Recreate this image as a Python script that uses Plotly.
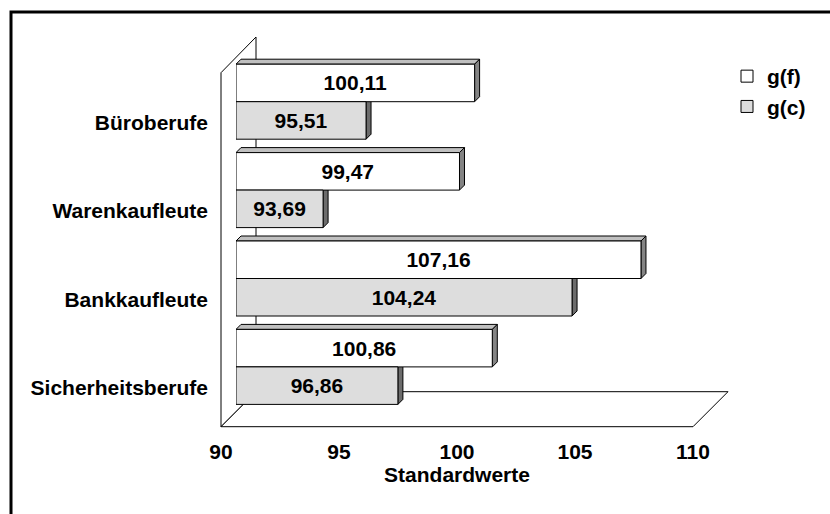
import plotly.graph_objects as go

# ---------------- data ----------------
categories = ["Büroberufe", "Warenkaufleute", "Bankkaufleute", "Sicherheitsberufe"]
series_names = ["g(f)", "g(c)"]
g_f = [100.11, 99.47, 107.16, 100.86]
g_c = [95.51, 93.69, 104.24, 96.86]
x_ticks = [90, 95, 100, 105, 110]
x_title = "Standardwerte"

# ---------------- styling / geometry ----------------
W, H = 830, 514
FONT = "Liberation Sans, Arial, sans-serif"
FS = 21
front_fill = ["#ffffff", "#dddddd"]
top_fill = ["#c0c0c0", "#a6a6a6"]
side_fill = ["#848484", "#6c6c6c"]

XMIN, XMAX = 90, 110
# pixel geometry of the pseudo-3D box
bar_x0_px, bar_x1_px = 236, 708          # plane of the bars
front_x0_px, front_x1_px = 221, 693      # front plane
back_x0_px, back_x1_px = 256, 728        # back plane
floor_front_y, floor_back_y = 426.7, 391.7
wall_front_top, wall_back_top = 72.7, 37.0
bar_top_px, bar_bot_px = 57.5, 411.1     # category band of bar plane
label_shift = 21                         # labels sit on the front plane
bargap = 0.1516
face_px = 5.0                            # depth of bar top/side faces


def px(x):
    return x / W


def py(y):
    return 1 - y / H


fig = go.Figure()
for s, (name, vals) in enumerate(zip(series_names, [g_f, g_c])):
    fig.add_trace(go.Bar(
        name=name, y=categories, x=[v - XMIN for v in vals], base=XMIN,
        orientation="h",
        marker=dict(color=front_fill[s], line=dict(color="black", width=1)),
        text=[f"{v:.2f}".replace(".", ",") for v in vals],
        textposition="inside", insidetextanchor="middle",
        textfont=dict(family=FONT, size=FS, color="black", weight="bold"),
        hoverinfo="skip", xaxis="x", yaxis="y",
    ))

# invisible helper trace to carry the front-plane axes (ticks + category labels)
fig.add_trace(go.Scatter(x=[XMIN], y=[categories[0]], xaxis="x2", yaxis="y2",
                         mode="markers", marker=dict(opacity=0), showlegend=False,
                         hoverinfo="skip"))

shapes = []
# outer frame
shapes.append(dict(type="rect", xref="paper", yref="paper",
                   x0=px(11), x1=1.02, y0=py(12), y1=-0.05,
                   line=dict(color="black", width=3), fillcolor="rgba(0,0,0,0)",
                   layer="below"))
# left wall
path = (f"M{px(front_x0_px)},{py(floor_front_y)} L{px(front_x0_px)},{py(wall_front_top)} "
        f"L{px(back_x0_px)},{py(wall_back_top)} L{px(back_x0_px)},{py(floor_back_y)} Z")
shapes.append(dict(type="path", xref="paper", yref="paper", path=path,
                   fillcolor="white", line=dict(color="black", width=1), layer="below"))
# floor
path = (f"M{px(front_x0_px)},{py(floor_front_y)} L{px(front_x1_px)},{py(floor_front_y)} "
        f"L{px(back_x1_px)},{py(floor_back_y)} L{px(back_x0_px)},{py(floor_back_y)} Z")
shapes.append(dict(type="path", xref="paper", yref="paper", path=path,
                   fillcolor="white", line=dict(color="black", width=1), layer="below"))

# 3D faces of bars (data coordinates)
unit_px_x = (bar_x1_px - bar_x0_px) / (XMAX - XMIN)
unit_px_y = (bar_bot_px - bar_top_px) / len(categories)
dxu = face_px / unit_px_x
dyu = face_px / unit_px_y
w = (1 - bargap) / 2
for s, vals in enumerate([g_f, g_c]):
    for i, v in enumerate(vals):
        y_top = i - w + s * w
        y_bot = y_top + w
        # top face
        shapes.append(dict(type="path", xref="x", yref="y", layer="below",
                           path=f"M{XMIN},{y_top} L{XMIN + dxu},{y_top - dyu} L{v + dxu},{y_top - dyu} L{v},{y_top} Z",
                           fillcolor=top_fill[s], line=dict(color="black", width=1)))
        # side face
        shapes.append(dict(type="path", xref="x", yref="y", layer="below",
                           path=f"M{v},{y_top} L{v + dxu},{y_top - dyu} L{v + dxu},{y_bot - dyu} L{v},{y_bot} Z",
                           fillcolor=side_fill[s], line=dict(color="black", width=1)))

cat_range = [len(categories) - 0.5, -0.5]
fig.update_layout(
    width=W, height=H, margin=dict(l=0, r=0, t=0, b=0, autoexpand=False),
    paper_bgcolor="white", plot_bgcolor="rgba(0,0,0,0)",
    font=dict(family=FONT, size=FS, color="black", weight="bold"),
    barmode="group", bargap=bargap, bargroupgap=0,
    separators=",.",
    shapes=shapes,
    showlegend=True,
    legend=dict(x=px(727), y=py(56), xanchor="left", yanchor="top",
                bgcolor="rgba(0,0,0,0)", font=dict(size=FS, weight="bold"),
                traceorder="normal", itemwidth=30, tracegroupgap=2),
    xaxis=dict(domain=[px(bar_x0_px), px(bar_x1_px)], range=[XMIN, XMAX],
               showticklabels=False, showgrid=False, zeroline=False, showline=False,
               anchor="y", fixedrange=True, automargin=False),
    yaxis=dict(domain=[py(bar_bot_px), py(bar_top_px)], type="category",
               categoryorder="array", categoryarray=categories, range=cat_range,
               showticklabels=False, showgrid=False, zeroline=False, showline=False,
               anchor="x", fixedrange=True, automargin=False),
    xaxis2=dict(domain=[px(front_x0_px), px(front_x1_px)], range=[XMIN, XMAX],
                tickvals=x_ticks, ticktext=[str(t) for t in x_ticks], ticks="",
                ticklabelstandoff=10,
                showgrid=False, zeroline=False, showline=False,
                anchor="free", position=py(floor_front_y), automargin=False,
                title=dict(text=x_title, standoff=5, font=dict(size=FS, weight="bold")),
                tickfont=dict(size=FS, weight="bold"), fixedrange=True),
    yaxis2=dict(domain=[py(bar_bot_px + label_shift), py(bar_top_px + label_shift)],
                type="category", categoryorder="array", categoryarray=categories,
                range=cat_range, ticks="", ticklabelstandoff=13,
                showgrid=False, zeroline=False, showline=False,
                anchor="free", position=px(front_x0_px), automargin=False,
                tickfont=dict(size=FS, weight="bold"), fixedrange=True),
)

fig.write_html("out.html")
